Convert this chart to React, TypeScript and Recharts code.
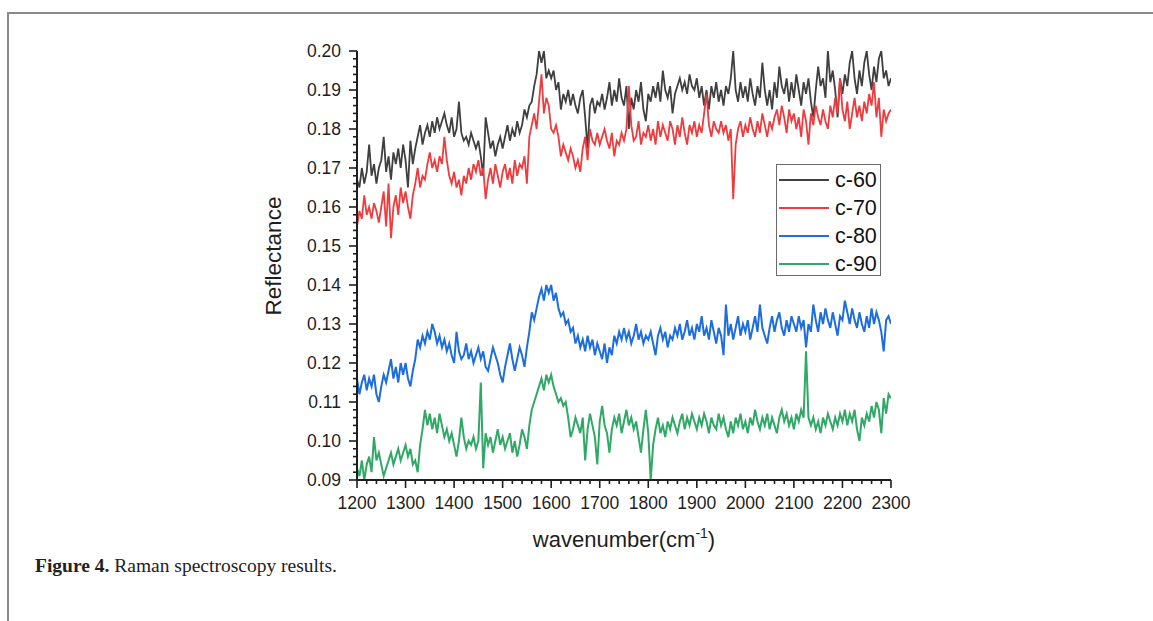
import React from 'react';
import { LineChart, Line, XAxis, YAxis, Legend } from 'recharts';

// wavenumber grid (cm-1), 5 cm-1 step from 1200 to 2300
const wavenumbers: number[] = Array.from({ length: 221 }, (_, i) => 1200 + i * 5);

const seriesNames = ['c-60', 'c-70', 'c-80', 'c-90'];
const seriesColors = ['#3f3f3f', '#ef3b3e', '#1d6ddc', '#30a866'];

const c60 = [
  0.167, 0.165, 0.170, 0.166, 0.169, 0.176, 0.168, 0.171, 0.166, 0.170,
  0.172, 0.178, 0.169, 0.173, 0.167, 0.174, 0.171, 0.175, 0.170, 0.176,
  0.172, 0.165, 0.177, 0.171, 0.175, 0.178, 0.181, 0.176, 0.179, 0.181,
  0.178, 0.182, 0.179, 0.183, 0.180, 0.182, 0.184, 0.181, 0.179, 0.183,
  0.178, 0.180, 0.187, 0.179, 0.177, 0.178, 0.176, 0.179, 0.177, 0.175,
  0.177, 0.173, 0.168, 0.183, 0.179, 0.175, 0.177, 0.173, 0.176, 0.178,
  0.175, 0.178, 0.181, 0.177, 0.180, 0.178, 0.182, 0.179, 0.181, 0.185,
  0.183, 0.186, 0.187, 0.191, 0.194, 0.200, 0.197, 0.200, 0.193, 0.195,
  0.193, 0.195, 0.190, 0.192, 0.185, 0.189, 0.187, 0.190, 0.186, 0.189,
  0.186, 0.184, 0.188, 0.190, 0.183, 0.175, 0.186, 0.188, 0.184, 0.187,
  0.186, 0.189, 0.185, 0.188, 0.192, 0.186, 0.190, 0.187, 0.193, 0.188,
  0.186, 0.191, 0.180, 0.188, 0.185, 0.190, 0.187, 0.192, 0.185, 0.182,
  0.189, 0.187, 0.191, 0.188, 0.192, 0.187, 0.195, 0.190, 0.188, 0.191,
  0.184, 0.189, 0.191, 0.193, 0.190, 0.192, 0.189, 0.194, 0.191, 0.190,
  0.193, 0.188, 0.191, 0.186, 0.190, 0.185, 0.191, 0.188, 0.192, 0.187,
  0.190, 0.186, 0.191, 0.189, 0.193, 0.200, 0.190, 0.187, 0.192, 0.188,
  0.191, 0.187, 0.193, 0.189, 0.186, 0.191, 0.188, 0.197, 0.190, 0.186,
  0.190, 0.185, 0.192, 0.188, 0.196, 0.191, 0.189, 0.193, 0.187, 0.192,
  0.188, 0.194, 0.190, 0.186, 0.192, 0.189, 0.193, 0.187, 0.183, 0.190,
  0.196, 0.191, 0.193, 0.188, 0.200, 0.192, 0.195, 0.190, 0.183, 0.193,
  0.189, 0.194, 0.191, 0.197, 0.200, 0.193, 0.189, 0.195, 0.191, 0.197,
  0.200, 0.194, 0.190, 0.196, 0.192, 0.198, 0.200, 0.193, 0.195, 0.191,
  0.193,
];

const c70 = [
  0.155, 0.159, 0.157, 0.163, 0.158, 0.160, 0.157, 0.161, 0.159, 0.156,
  0.160, 0.164, 0.155, 0.166, 0.152, 0.160, 0.163, 0.158, 0.165, 0.161,
  0.164, 0.160, 0.157, 0.163, 0.166, 0.170, 0.165, 0.168, 0.167, 0.171,
  0.174, 0.170, 0.172, 0.169, 0.173, 0.171, 0.178, 0.172, 0.168, 0.166,
  0.169, 0.165, 0.167, 0.163, 0.168, 0.166, 0.170, 0.167, 0.171, 0.169,
  0.172, 0.168, 0.170, 0.162, 0.167, 0.170, 0.166, 0.171, 0.168, 0.165,
  0.169, 0.171, 0.167, 0.170, 0.166, 0.172, 0.168, 0.171, 0.170, 0.173,
  0.166, 0.178, 0.181, 0.184, 0.180, 0.187, 0.194, 0.184, 0.188, 0.186,
  0.180, 0.179, 0.181, 0.178, 0.173, 0.176, 0.174, 0.172, 0.175, 0.173,
  0.170, 0.172, 0.169, 0.175, 0.178, 0.172, 0.180, 0.177, 0.176, 0.179,
  0.176, 0.178, 0.180, 0.177, 0.175, 0.179, 0.173, 0.177, 0.176, 0.179,
  0.177, 0.180, 0.191, 0.181, 0.177, 0.178, 0.182, 0.176, 0.179, 0.178,
  0.181, 0.177, 0.180, 0.176, 0.182, 0.178, 0.181, 0.179, 0.177, 0.182,
  0.180, 0.176, 0.181, 0.178, 0.183, 0.179, 0.176, 0.181, 0.179, 0.182,
  0.178, 0.181, 0.179, 0.184, 0.189, 0.181, 0.178, 0.182, 0.180, 0.179,
  0.182, 0.179, 0.181, 0.177, 0.180, 0.162, 0.176, 0.180, 0.182, 0.178,
  0.181, 0.179, 0.183, 0.180, 0.178, 0.182, 0.179, 0.184, 0.181, 0.178,
  0.182, 0.180, 0.183, 0.185, 0.181, 0.186, 0.183, 0.179, 0.185, 0.182,
  0.184, 0.180, 0.183, 0.178, 0.185, 0.182, 0.176, 0.184, 0.181, 0.186,
  0.183, 0.181, 0.185, 0.182, 0.180, 0.186, 0.183, 0.188, 0.184, 0.193,
  0.185, 0.182, 0.187, 0.180, 0.184, 0.188, 0.183, 0.186, 0.182, 0.187,
  0.184, 0.189, 0.186, 0.192, 0.183, 0.188, 0.178, 0.185, 0.182, 0.184,
  0.185,
];

const c80 = [
  0.116, 0.112, 0.115, 0.117, 0.113, 0.116, 0.114, 0.117, 0.112, 0.110,
  0.114, 0.117, 0.115, 0.118, 0.121, 0.116, 0.119, 0.115, 0.120, 0.117,
  0.120, 0.116, 0.114, 0.118, 0.121, 0.126, 0.124, 0.127, 0.125, 0.128,
  0.126, 0.130, 0.128, 0.125, 0.127, 0.124, 0.126, 0.123, 0.125, 0.122,
  0.120, 0.128, 0.123, 0.121, 0.122, 0.125, 0.121, 0.123, 0.120, 0.122,
  0.124, 0.121, 0.123, 0.119, 0.118, 0.121, 0.124, 0.122, 0.120, 0.117,
  0.115, 0.119, 0.122, 0.125, 0.121, 0.118, 0.121, 0.124, 0.122, 0.119,
  0.124, 0.128, 0.133, 0.131, 0.134, 0.137, 0.139, 0.136, 0.140, 0.138,
  0.140, 0.136, 0.138, 0.134, 0.132, 0.133, 0.130, 0.131, 0.128, 0.129,
  0.125, 0.127, 0.124, 0.126, 0.123, 0.127, 0.124, 0.126, 0.122, 0.125,
  0.123, 0.121, 0.125, 0.120, 0.124, 0.122, 0.127, 0.125, 0.128, 0.126,
  0.129, 0.126, 0.128, 0.125, 0.127, 0.130, 0.126, 0.128, 0.125, 0.127,
  0.126, 0.128, 0.125, 0.122, 0.127, 0.129, 0.126, 0.128, 0.124, 0.127,
  0.126, 0.129, 0.127, 0.130, 0.126, 0.128, 0.131, 0.127, 0.129, 0.126,
  0.130, 0.128, 0.132, 0.127, 0.129, 0.126, 0.131, 0.128, 0.125, 0.129,
  0.127, 0.122, 0.135, 0.127, 0.130, 0.126, 0.129, 0.132, 0.127, 0.130,
  0.128, 0.131, 0.126, 0.129, 0.132, 0.128, 0.135, 0.129, 0.127, 0.125,
  0.129, 0.132, 0.128, 0.131, 0.133, 0.129, 0.127, 0.131, 0.128, 0.132,
  0.130, 0.128, 0.132, 0.129, 0.131, 0.124, 0.130, 0.128, 0.135, 0.131,
  0.128, 0.133, 0.130, 0.134, 0.131, 0.129, 0.133, 0.130, 0.127, 0.132,
  0.131, 0.136, 0.133, 0.130, 0.134, 0.131, 0.129, 0.133, 0.130, 0.128,
  0.132, 0.129, 0.134, 0.130, 0.133, 0.131, 0.128, 0.123, 0.131, 0.132,
  0.130,
];

const c90 = [
  0.093, 0.091, 0.095, 0.090, 0.094, 0.096, 0.092, 0.101, 0.095, 0.097,
  0.094, 0.091, 0.093, 0.095, 0.097, 0.094, 0.096, 0.098, 0.095, 0.097,
  0.099, 0.096, 0.098, 0.094, 0.095, 0.092, 0.099, 0.103, 0.108, 0.104,
  0.107, 0.103, 0.106, 0.102, 0.107, 0.104, 0.101, 0.103, 0.100, 0.102,
  0.099, 0.096, 0.100, 0.106, 0.101, 0.098, 0.100, 0.099, 0.101, 0.098,
  0.100, 0.115, 0.093, 0.102, 0.099, 0.101, 0.097, 0.100, 0.103, 0.099,
  0.101, 0.098, 0.100, 0.102, 0.097, 0.100, 0.096, 0.099, 0.103, 0.101,
  0.098, 0.104, 0.108, 0.110, 0.112, 0.114, 0.116, 0.113, 0.117, 0.115,
  0.117, 0.114, 0.112, 0.110, 0.111, 0.109, 0.110, 0.106, 0.101, 0.103,
  0.106, 0.104, 0.102, 0.106, 0.095, 0.103, 0.107, 0.104, 0.101, 0.094,
  0.105, 0.109, 0.104, 0.102, 0.097, 0.103, 0.106, 0.104, 0.107, 0.102,
  0.105, 0.108, 0.104, 0.106, 0.103, 0.105, 0.101, 0.097, 0.103, 0.108,
  0.102, 0.090, 0.099, 0.103, 0.106, 0.102, 0.104, 0.101, 0.105, 0.103,
  0.106, 0.104, 0.102, 0.105, 0.107, 0.103, 0.106, 0.104, 0.107, 0.105,
  0.103, 0.106, 0.104, 0.107, 0.105, 0.102, 0.106, 0.104, 0.103, 0.107,
  0.104, 0.106, 0.103, 0.101, 0.105, 0.102, 0.106, 0.104, 0.107, 0.103,
  0.105, 0.102, 0.106, 0.104, 0.108, 0.105, 0.103, 0.106, 0.104, 0.107,
  0.103, 0.106, 0.104, 0.102, 0.106, 0.108, 0.105, 0.107, 0.104, 0.106,
  0.103, 0.107, 0.105, 0.108, 0.106, 0.123, 0.106, 0.104, 0.106, 0.103,
  0.105, 0.102, 0.106, 0.104, 0.107, 0.105, 0.103, 0.106, 0.104, 0.107,
  0.105, 0.108, 0.104, 0.107, 0.105, 0.108, 0.103, 0.100, 0.106, 0.104,
  0.107, 0.105, 0.109, 0.106, 0.110, 0.108, 0.102, 0.111, 0.107, 0.112,
  0.111,
];

const xMajorTicks = [1200, 1300, 1400, 1500, 1600, 1700, 1800, 1900, 2000, 2100, 2200, 2300];
const yMajorTicks = [0.09, 0.10, 0.11, 0.12, 0.13, 0.14, 0.15, 0.16, 0.17, 0.18, 0.19, 0.20];

// minor ticks: 4 between each pair of major ticks
const xAllTicks: number[] = [];
for (let i = 0; i < xMajorTicks.length; i++) {
  for (let k = 0; k < 5; k++) {
    if (i === xMajorTicks.length - 1 && k > 0) break;
    xAllTicks.push(xMajorTicks[i] + k * 20);
  }
}
const yAllTicks: number[] = [];
for (let i = 0; i < yMajorTicks.length; i++) {
  for (let k = 0; k < 5; k++) {
    if (i === yMajorTicks.length - 1 && k > 0) break;
    yAllTicks.push(Number((yMajorTicks[i] + k * 0.002).toFixed(3)));
  }
}

const data = wavenumbers.map((w, i) => ({
  w,
  'c-60': c60[i],
  'c-70': c70[i],
  'c-80': c80[i],
  'c-90': c90[i],
}));

const AXIS_FONT = "'Liberation Sans', Arial, sans-serif";
const AXIS_COLOR = '#1e1e1e';

const isXMajor = (v: number) => xMajorTicks.indexOf(v) >= 0;
const isYMajor = (v: number) => yMajorTicks.some((m) => Math.abs(m - v) < 1e-7);

const XTick = (props: any) => {
  const { x, y, payload } = props;
  const v = payload.value as number;
  const major = isXMajor(v);
  return (
    <g>
      <line x1={x} x2={x} y1={y} y2={y + (major ? 8 : 4)} stroke={AXIS_COLOR} strokeWidth={1.6} />
      {major && (
        <text x={x} y={y + 29} textAnchor="middle" fontFamily={AXIS_FONT} fontSize={17.5} fill={AXIS_COLOR}>
          {v}
        </text>
      )}
    </g>
  );
};

const YTick = (props: any) => {
  const { x, y, payload } = props;
  const v = payload.value as number;
  const major = isYMajor(v);
  return (
    <g>
      <line x1={x} x2={x - (major ? 8 : 4)} y1={y} y2={y} stroke={AXIS_COLOR} strokeWidth={1.6} />
      {major && (
        <text x={x - 16} y={y + 6} textAnchor="end" fontFamily={AXIS_FONT} fontSize={17.5} fill={AXIS_COLOR}>
          {v.toFixed(2)}
        </text>
      )}
    </g>
  );
};

const XTitle = (props: any) => {
  const vb = props.viewBox || {};
  const cx = vb.x + vb.width / 2;
  const by = vb.y + 67;
  return (
    <text x={cx} y={by} textAnchor="middle" fontFamily={AXIS_FONT} fontSize={22} fill={AXIS_COLOR}>
      <tspan>wavenumber(cm</tspan>
      <tspan fontSize={14} dy={-9}>-1</tspan>
      <tspan dy={9}>)</tspan>
    </text>
  );
};

const YTitle = (props: any) => {
  const vb = props.viewBox || {};
  const cx = vb.x - 24;
  const cy = 256;
  return (
    <text
      x={cx}
      y={cy}
      textAnchor="middle"
      dominantBaseline="central"
      transform={`rotate(-90, ${cx}, ${cy})`}
      fontFamily={AXIS_FONT}
      fontSize={22.5}
      fill={AXIS_COLOR}
    >
      Reflectance
    </text>
  );
};

const LegendBox = (props: any) => {
  const payload = (props.payload || []) as any[];
  return (
    <div
      style={{
        border: '1px solid #6a6a6a',
        background: '#fff',
        width: 105,
        height: 112,
        boxSizing: 'border-box',
        paddingTop: 1,
      }}
    >
      {payload.map((p: any) => (
        <div key={p.value} style={{ display: 'flex', alignItems: 'center', height: 28 }}>
          <div style={{ width: 50, height: 0, borderTop: `2px solid ${p.color}`, marginLeft: 2 }} />
          <span
            style={{
              marginLeft: 6,
              fontFamily: AXIS_FONT,
              fontSize: 21.5,
              color: '#111',
              lineHeight: '28px',
            }}
          >
            {p.value}
          </span>
        </div>
      ))}
    </div>
  );
};

export default function App() {
  return (
    <div
      style={{
        position: 'absolute',
        left: 0,
        top: 0,
        width: 1153,
        height: 621,
        overflow: 'hidden',
        background: '#fff',
      }}
    >
      <div
        style={{
          position: 'absolute',
          left: 7,
          top: 12,
          width: 1200,
          height: 700,
          borderTop: '2px solid #8a8a8a',
          borderLeft: '2px solid #8a8a8a',
        }}
      />
      <div style={{ position: 'absolute', left: 0, top: 0 }}>
        <LineChart
          width={1153}
          height={621}
          data={data}
          margin={{ top: 51, right: 262, bottom: 111, left: 297 }}
        >
          <XAxis
            dataKey="w"
            type="number"
            domain={[1200, 2300]}
            ticks={xAllTicks}
            interval={0}
            tick={<XTick />}
            tickLine={false}
            tickSize={0}
            tickMargin={0}
            height={30}
            axisLine={{ stroke: AXIS_COLOR, strokeWidth: 2 }}
            allowDataOverflow
            label={<XTitle />}
          />
          <YAxis
            type="number"
            domain={[0.09, 0.2]}
            ticks={yAllTicks}
            interval={0}
            tick={<YTick />}
            tickLine={false}
            tickSize={0}
            tickMargin={0}
            width={60}
            axisLine={{ stroke: AXIS_COLOR, strokeWidth: 2 }}
            allowDataOverflow
            label={<YTitle />}
          />
          {seriesNames.map((name, i) => (
            <Line
              key={name}
              dataKey={name}
              name={name}
              stroke={seriesColors[i]}
              strokeWidth={i >= 2 ? 2 : 1.8}
              dot={false}
              type="linear"
              isAnimationActive={false}
              strokeLinejoin="miter"
            />
          ))}
          <Legend
            layout="vertical"
            align="center"
            verticalAlign="middle"
            content={<LegendBox />}
            wrapperStyle={{ left: 776, top: 164, width: 105, height: 112 }}
          />
        </LineChart>
      </div>
      <div
        style={{
          position: 'absolute',
          left: 35,
          top: 555,
          fontFamily: "'Liberation Serif', 'Times New Roman', serif",
          fontSize: 19.5,
          color: '#222',
          whiteSpace: 'nowrap',
        }}
      >
        <b>Figure 4.</b> Raman spectroscopy results.
      </div>
    </div>
  );
}
